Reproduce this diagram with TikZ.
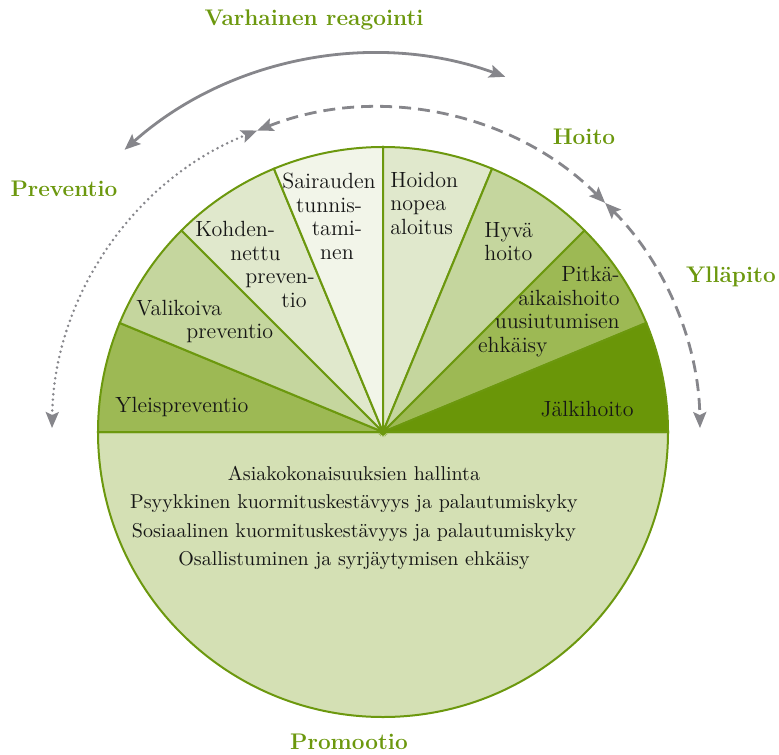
\documentclass[tikz,border=0pt]{standalone}
\usepackage{tikz}
\usetikzlibrary{calc,arrows.meta}
\definecolor{leafline}{RGB}{108,152,14}
\definecolor{leafA}{RGB}{157,185,84}
\definecolor{leafB}{RGB}{197,214,158}
\definecolor{leafC}{RGB}{224,232,204}
\definecolor{leafD}{RGB}{242,245,233}
\definecolor{leafE}{RGB}{106,150,8}
\definecolor{leafF}{RGB}{212,224,180}
\definecolor{arrowgray}{RGB}{134,134,139}
\definecolor{inktext}{RGB}{22,22,22}
\def\drawwedge{\draw[color=leafline, line width=1pt]}
\def\drawcycle{\draw[color=arrowgray, line width=1.4pt]}
\def\wedgenode{\node[inner sep=0pt, text=inktext, font=\fontsize{11}{11.75}\selectfont]}
\def\phasenode{\node[inner sep=0pt, text=leafline, font=\fontsize{11.3}{13}\selectfont\bfseries]}

\begin{document}
\begin{tikzpicture}[x=0.5pt,y=0.5pt,>={Stealth[length=8pt,width=6.5pt,inset=1.5pt]}]
\useasboundingbox (-383,-322) rectangle (396,432);
\drawwedge[fill=leafF] (0:285) arc[start angle=0, end angle=-180, radius=285] -- cycle;
\drawwedge[fill=leafA] (0,0) -- (180:285) arc[start angle=180, end angle=157.5, radius=285] -- cycle;
\drawwedge[fill=leafB] (0,0) -- (157.5:285) arc[start angle=157.5, end angle=135, radius=285] -- cycle;
\drawwedge[fill=leafC] (0,0) -- (135:285) arc[start angle=135, end angle=112.5, radius=285] -- cycle;
\drawwedge[fill=leafD] (0,0) -- (112.5:285) arc[start angle=112.5, end angle=90, radius=285] -- cycle;
\drawwedge[fill=leafC] (0,0) -- (90:285) arc[start angle=90, end angle=67.5, radius=285] -- cycle;
\drawwedge[fill=leafB] (0,0) -- (67.5:285) arc[start angle=67.5, end angle=45, radius=285] -- cycle;
\drawwedge[fill=leafA] (0,0) -- (45:285) arc[start angle=45, end angle=22.5, radius=285] -- cycle;
\drawwedge[fill=leafE] (0,0) -- (22.5:285) arc[start angle=22.5, end angle=0, radius=285] -- cycle;
\wedgenode[anchor=west] (yleis) at (-268,25) {Yleispreventio};
\wedgenode[anchor=west, align=left] (valik) at (-247,110.5) {Valikoiva\\\hspace*{25pt}preventio};
\wedgenode[anchor=west, align=left] (kohd) at (-188,167.5) {Kohden-\\\hspace*{17.5pt}nettu\\\hspace*{25pt}preven-\\\hspace*{43pt}tio};
\wedgenode[align=center] (sair) at (-54,215.5) {Sairauden\\tunnis-\\\hspace*{8pt}tami-\\\hspace*{8pt}nen};
\wedgenode[anchor=west, align=left] (hoid) at (7,229) {Hoidon\\nopea\\aloitus};
\wedgenode[anchor=west, align=left] (hyva) at (101,190.5) {Hyvä\\hoito};
\wedgenode[anchor=east, align=right] (pitka) at (237,120.5) {Pitkä-\\aikaishoito\\uusiutumisen\\ehkäisy\hspace*{36pt}\null};
\wedgenode[anchor=east] (jalki) at (251,23) {Jälkihoito};
\wedgenode[align=center, font=\fontsize{10}{12}\selectfont] (promtext) at (-29,-86) {Asiakokonaisuuksien hallinta\\[2.25pt]Psyykkinen kuormituskestävyys ja palautumiskyky\\[2.25pt]Sosiaalinen kuormituskestävyys ja palautumiskyky\\[2.25pt]Osallistuminen ja syrjäytymisen ehkäisy};
\phasenode (varhainen) at (-69,412) {Varhainen reagointi};
\phasenode (preventio) at (-319,243) {Preventio};
\phasenode (hoito) at (201,295) {Hoito};
\phasenode (yllapito) at (348,155) {Ylläpito};
\phasenode (promootio) at (-34,-310) {Promootio};
\coordinate (ring) at (-7,0);
\coordinate (reactL) at ($(ring)+(131.7:378)$);
\coordinate (prevB) at ($(ring)+(179.3:324)$);
\coordinate (hoitoR) at ($(ring)+(45:324)$);
\coordinate (prevT) at ($(ring)+(111.5:324)$);
\drawcycle[<->] (reactL) arc[start angle=131.7, end angle=70, radius=378];
\drawcycle[<->, line cap=round, dash pattern=on 0pt off 2.7pt] (prevB) arc[start angle=179.3, end angle=111.5, radius=324];
\drawcycle[<->, dash pattern=on 6pt off 3.5pt] (prevT) arc[start angle=111.5, end angle=45, radius=324];
\drawcycle[<->, dash pattern=on 6pt off 3.5pt] (hoitoR) arc[start angle=45, end angle=0.7, radius=324];
\end{tikzpicture}
\end{document}
